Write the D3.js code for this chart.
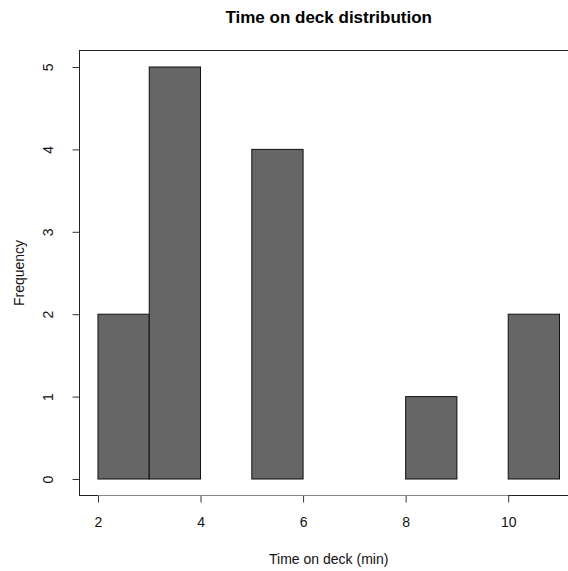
<!DOCTYPE html>
<html>
<head>
<meta charset="utf-8">
<script src="https://cdn.jsdelivr.net/npm/d3@7"></script>
<style>
  body { margin: 0; background: #fff; }
  svg { display: block; font-family: "Liberation Sans", Arial, sans-serif; }
  .tick-label { font-size: 14px; fill: #111; }
  .axis-title { font-size: 14px; fill: #111; }
  .title { font-size: 17px; font-weight: bold; fill: #000; }
</style>
</head>
<body>
<div id="chart"></div>
<script>
// histogram data (bin edges and counts)
const breaks = [2, 3, 4, 5, 6, 7, 8, 9, 10, 11];
const counts = [2, 5, 0, 4, 0, 0, 1, 0, 2];
const xTicks = [2, 4, 6, 8, 10];
const yTicks = [0, 1, 2, 3, 4, 5];

const W = 568, H = 571;
const BOX_LEFT = 79.5, BOX_TOP = 50.5, BOX_BOTTOM = 495.5;

const bins = counts.map((c, i) => ({ x0: breaks[i], x1: breaks[i + 1], count: c }));

// R pads the data range by 4% on both sides
const xr = [2 - 0.04 * 9, 11 + 0.04 * 9];
const yr = [-0.04 * 5, 5 + 0.04 * 5];
const x = d3.scaleLinear().domain(xr).range([BOX_LEFT, BOX_LEFT + (xr[1] - xr[0]) * 51.28]);
const y = d3.scaleLinear().domain(yr).range([BOX_BOTTOM, BOX_TOP]);

const svg = d3.select('#chart').append('svg')
  .attr('width', W)
  .attr('height', H);

// bars
svg.append('g').selectAll('rect')
  .data(bins)
  .join('rect')
  .attr('x', d => x(d.x0))
  .attr('y', d => y(d.count))
  .attr('width', d => x(d.x1) - x(d.x0))
  .attr('height', d => y(0) - y(d.count))
  .attr('fill', '#666666')
  .attr('stroke', '#111')
  .attr('stroke-width', 1);

// plot box (right side runs past the canvas edge)
svg.append('rect')
  .attr('x', BOX_LEFT)
  .attr('y', BOX_TOP)
  .attr('width', x(xr[1]) - BOX_LEFT)
  .attr('height', BOX_BOTTOM - BOX_TOP)
  .attr('fill', 'none')
  .attr('stroke', '#222')
  .attr('stroke-width', 1);

// bottom axis
const xAxis = svg.append('g')
  .attr('transform', `translate(0,${BOX_BOTTOM})`)
  .call(d3.axisBottom(x).tickValues(xTicks).tickSize(7).tickPadding(15).tickSizeOuter(0));
xAxis.select('.domain').remove();
xAxis.append('line')
  .attr('x1', x(xTicks[0])).attr('x2', x(xTicks[xTicks.length - 1]))
  .attr('stroke', '#888').attr('stroke-width', 1);
xAxis.selectAll('.tick line').attr('stroke', '#333');
xAxis.selectAll('.tick text')
  .attr('class', 'tick-label')
  .attr('font-family', null).attr('font-size', null);

// left axis, labels rotated like R's default las=0
const yAxis = svg.append('g')
  .attr('transform', `translate(${BOX_LEFT},0)`)
  .call(d3.axisLeft(y).tickValues(yTicks).tickSize(7).tickSizeOuter(0).tickFormat(d3.format('d')));
yAxis.select('.domain').remove();
yAxis.selectAll('.tick line').attr('stroke', '#333');
yAxis.selectAll('.tick text')
  .attr('class', 'tick-label')
  .attr('font-family', null).attr('font-size', null)
  .attr('x', null).attr('dy', null)
  .attr('text-anchor', 'middle')
  .attr('transform', 'translate(-27,0) rotate(-90)');

const cx = (BOX_LEFT + x(xr[1])) / 2;

svg.append('text')
  .attr('class', 'title')
  .attr('x', cx)
  .attr('y', 23)
  .attr('text-anchor', 'middle')
  .text('Time on deck distribution');

svg.append('text')
  .attr('class', 'axis-title')
  .attr('x', cx)
  .attr('y', 564)
  .attr('text-anchor', 'middle')
  .text('Time on deck (min)');

svg.append('text')
  .attr('class', 'axis-title')
  .attr('transform', `translate(24,${(BOX_TOP + BOX_BOTTOM) / 2}) rotate(-90)`)
  .attr('text-anchor', 'middle')
  .text('Frequency');
</script>
</body>
</html>
